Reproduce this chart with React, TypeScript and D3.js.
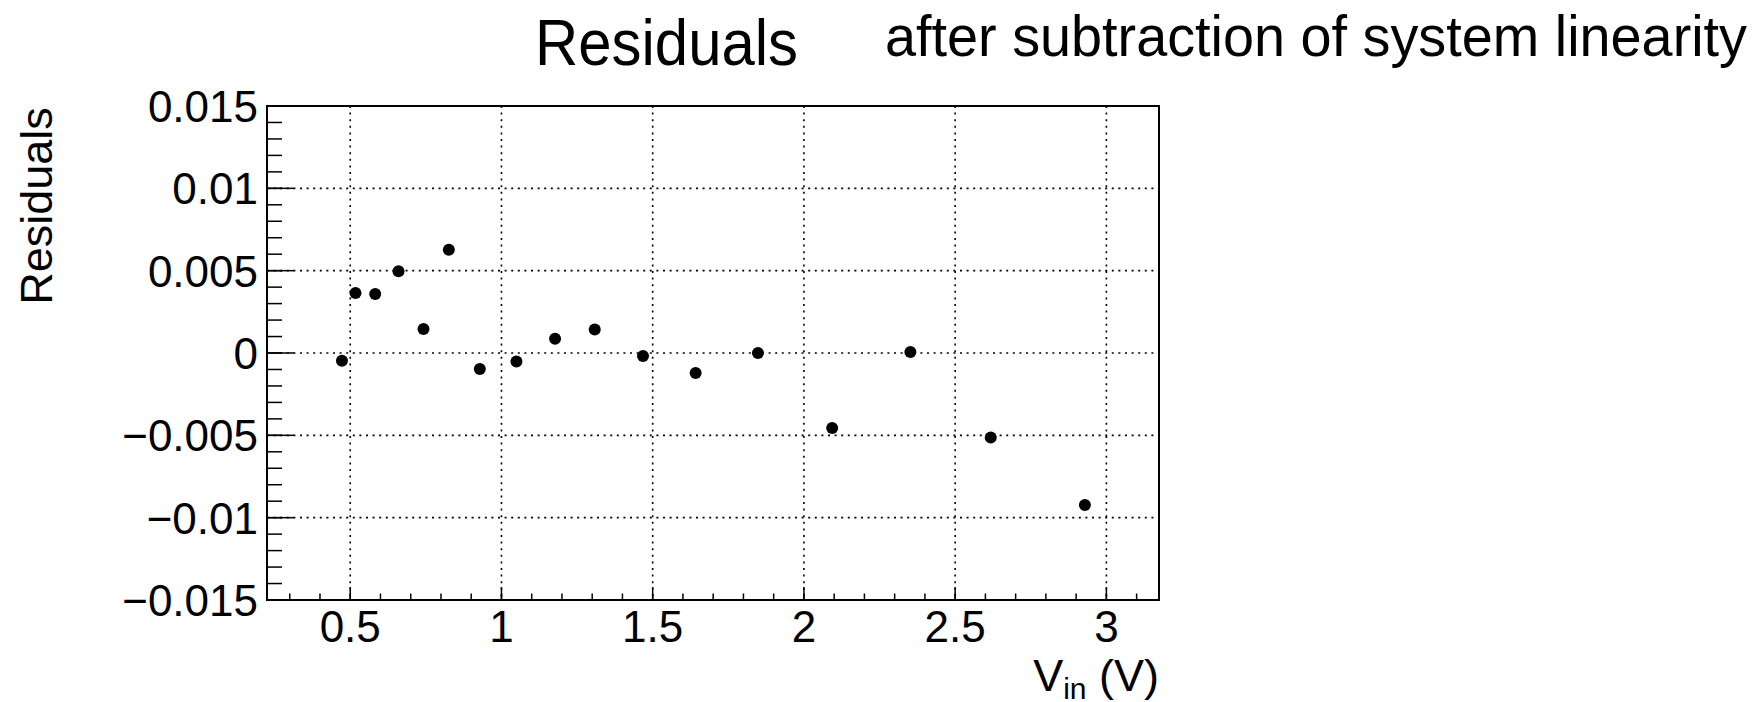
import React from "react";
import * as d3 from "d3";

const vin = [0.4726, 0.5175, 0.5826, 0.6596, 0.7422, 0.826, 0.9285, 1.0495, 1.1772, 1.3084, 1.468, 1.642, 1.848, 2.0934, 2.352, 2.6177, 2.929];
const residuals = [-0.00047, 0.00365, 0.00359, 0.00496, 0.00146, 0.00627, -0.00097, -0.00051, 0.00087, 0.00142, -0.00018, -0.00122, 0.0, -0.00456, 0.00006, -0.00513, -0.00923];

const xTicks = [0.5, 1, 1.5, 2, 2.5, 3];
const xTickLabels = ["0.5", "1", "1.5", "2", "2.5", "3"];
const yTicks = [-0.015, -0.01, -0.005, 0, 0.005, 0.01, 0.015];
const yTickLabels = ["\u22120.015", "\u22120.01", "\u22120.005", "0", "0.005", "0.01", "0.015"];

const titleMain = "Residuals";
const titleSub = "after subtraction of system linearity";
const yTitle = "Residuals";

const W = 1756;
const H = 702;
const left = 267;
const right = 1159;
const top = 106;
const bottom = 600;
const FONT = "'Liberation Sans', Arial, Helvetica, sans-serif";

export default function App() {
  const x = d3.scaleLinear().domain([0.2248, 3.174]).range([left, right]);
  const y = d3.scaleLinear().domain([-0.015, 0.015]).range([bottom, top]);

  const xMinor = d3.range(3, 32).map((v) => v / 10).filter((v) => x(v) > left + 1 && x(v) < right - 1);
  const yMinor = d3.range(-15, 16).map((v) => v / 1000);

  return (
    <svg
      width={W}
      height={H}
      style={{ position: "absolute", left: 0, top: 0, background: "#fff" }}
      fontFamily={FONT}
    >
      <rect x={0} y={0} width={W} height={H} fill="#fff" />
      {/* grid */}
      {xTicks.map((t) => (
        <line key={"gx" + t} x1={x(t)} x2={x(t)} y1={top} y2={bottom} stroke="#000" strokeWidth={1.6} strokeDasharray="2 4.6" />
      ))}
      {yTicks.map((t) => (
        <line key={"gy" + t} x1={left} x2={right} y1={y(t)} y2={y(t)} stroke="#000" strokeWidth={1.6} strokeDasharray="2 4.6" />
      ))}
      {/* minor ticks */}
      {xMinor.map((t) => (
        <line key={"mx" + t} x1={x(t)} x2={x(t)} y1={bottom} y2={bottom - 6.5} stroke="#000" strokeWidth={1.5} />
      ))}
      {xTicks.map((t) => (
        <line key={"Mx" + t} x1={x(t)} x2={x(t)} y1={bottom} y2={bottom - 13} stroke="#000" strokeWidth={1.5} />
      ))}
      {yMinor.map((t) => (
        <line key={"my" + t} x1={left} x2={left + 15} y1={y(t)} y2={y(t)} stroke="#000" strokeWidth={1.5} />
      ))}
      {yTicks.map((t) => (
        <line key={"My" + t} x1={left} x2={left + 27} y1={y(t)} y2={y(t)} stroke="#000" strokeWidth={1.5} />
      ))}
      {/* frame */}
      <rect x={left} y={top} width={right - left} height={bottom - top} fill="none" stroke="#000" strokeWidth={2} />
      {/* tick labels */}
      {yTicks.map((t, i) => (
        <text key={"ly" + t} x={258} y={y(t) + 16} fontSize={44} textAnchor="end" fill="#000">
          {yTickLabels[i]}
        </text>
      ))}
      {xTicks.map((t, i) => (
        <text key={"lx" + t} x={x(t)} y={642} fontSize={44} textAnchor="middle" fill="#000">
          {xTickLabels[i]}
        </text>
      ))}
      {/* axis titles */}
      <text x={right} y={691} fontSize={45} textAnchor="end" fill="#000">
        V<tspan fontSize={30} dy={8}>in</tspan>
        <tspan dy={-8}> (V)</tspan>
      </text>
      <text
        transform={`translate(52, 206) rotate(-90)`}
        fontSize={45}
        textAnchor="middle"
        fill="#000"
      >
        {yTitle}
      </text>
      {/* titles */}
      <text x={535} y={65} fontSize={64} textLength={263} lengthAdjust="spacingAndGlyphs" fill="#000">
        {titleMain}
      </text>
      <text x={885} y={56} fontSize={58} textLength={862} lengthAdjust="spacingAndGlyphs" fill="#000">
        {titleSub}
      </text>
      {/* points */}
      {vin.map((v, i) => (
        <circle key={"p" + i} cx={x(v)} cy={y(residuals[i])} r={6} fill="#000" />
      ))}
    </svg>
  );
}
